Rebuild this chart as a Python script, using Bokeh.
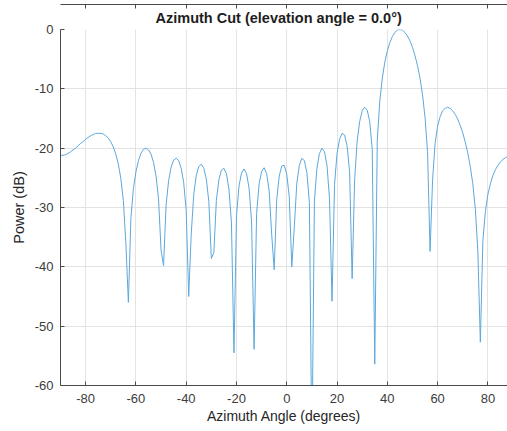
from bokeh.plotting import figure
from bokeh.models import Range1d, FixedTicker, LinearAxis, Title, CustomJSTickFormatter
from bokeh.embed import file_html
from bokeh.resources import INLINE

# Azimuth angles (degrees), 1-degree samples
azimuth = [-90, -89, -88, -87, -86, -85, -84, -83, -82, -81, -80, -79, -78, -77, -76, -75,
           -74, -73, -72, -71, -70, -69, -68, -67, -66, -65, -64, -63, -62, -61, -60, -59,
           -58, -57, -56, -55, -54, -53, -52, -51, -50, -49, -48, -47, -46, -45, -44, -43,
           -42, -41, -40, -39, -38, -37, -36, -35, -34, -33, -32, -31, -30, -29, -28, -27,
           -26, -25, -24, -23, -22, -21, -20, -19, -18, -17, -16, -15, -14, -13, -12, -11,
           -10, -9, -8, -7, -6, -5, -4, -3, -2, -1, 0, 1, 2, 3, 4, 5, 6, 7, 8, 9, 10, 11,
           12, 13, 14, 15, 16, 17, 18, 19, 20, 21, 22, 23, 24, 25, 26, 27, 28, 29, 30, 31,
           32, 33, 34, 35, 36, 37, 38, 39, 40, 41, 42, 43, 44, 45, 46, 47, 48, 49, 50, 51,
           52, 53, 54, 55, 56, 57, 58, 59, 60, 61, 62, 63, 64, 65, 66, 67, 68, 69, 70, 71,
           72, 73, 74, 75, 76, 77, 78, 79, 80, 81, 82, 83, 84, 85, 86, 87, 88, 89, 90]

# Power (dB)
power_db = [-21.2, -21.2, -21.1, -20.9, -20.6, -20.3, -20.0, -19.6, -19.2, -18.9, -18.5, -18.2,
            -17.9, -17.7, -17.5, -17.5, -17.5, -17.6, -17.9, -18.3, -18.9, -19.8, -21.0, -22.7,
            -25.1, -28.8, -36.0, -46.0, -31.8, -26.8, -24.0, -22.1, -20.9, -20.2, -20.0, -20.3,
            -21.0, -22.4, -24.7, -28.6, -37.2, -39.8, -29.6, -25.5, -23.2, -22.0, -21.7, -22.1,
            -23.4, -25.8, -30.5, -45.0, -34.5, -27.8, -24.6, -23.1, -22.7, -23.4, -25.2, -29.0,
            -38.6, -37.6, -28.8, -25.3, -23.7, -23.4, -24.3, -26.9, -32.6, -54.5, -31.4, -26.4,
            -24.2, -23.5, -24.3, -26.7, -32.3, -53.9, -31.0, -26.0, -23.9, -23.3, -24.3, -27.2,
            -34.5, -40.5, -28.7, -24.7, -23.0, -22.9, -24.4, -28.2, -40.0, -33.3, -25.9, -22.9,
            -21.7, -22.1, -24.1, -29.2, -71.9, -28.9, -23.4, -20.9, -20.0, -20.6, -22.9, -28.5,
            -45.8, -26.1, -20.9, -18.5, -17.5, -17.8, -19.6, -24.0, -42.0, -25.3, -18.8, -15.5,
            -13.7, -13.1, -13.6, -15.5, -20.2, -56.4, -18.7, -12.1, -8.2, -5.5, -3.6, -2.2,
            -1.2, -0.5, -0.1, 0.0, -0.1, -0.5, -1.1, -1.9, -3.0, -4.4, -6.1, -8.2,
            -11.0, -14.8, -20.6, -37.4, -25.3, -19.2, -16.3, -14.7, -13.7, -13.3, -13.1, -13.3,
            -13.7, -14.3, -15.1, -16.2, -17.4, -19.0, -20.8, -23.1, -26.0, -30.2, -37.3, -52.7,
            -35.6, -30.7, -27.8, -26.0, -24.6, -23.6, -22.9, -22.3, -21.9, -21.6, -21.4, -21.3,
            -21.2]

x_ticks = [-80, -60, -40, -20, 0, 20, 40, 60, 80]
x_tick_labels = ["-80", "-60", "-40", "-20", "0", "20", "40", "60", "80"]
y_ticks = [-60, -50, -40, -30, -20, -10, 0]
y_tick_labels = ["-60", "-50", "-40", "-30", "-20", "-10", "0"]

title_text = "Azimuth Cut (elevation angle = 0.0\u00b0)"
x_label = "Azimuth Angle (degrees)"
y_label = "Power (dB)"

FONT = "Liberation Sans"
AX = "#4a4a4a"
LBL = "#3c3c3c"

p = figure(width=507, height=431, output_backend="svg", toolbar_location=None,
           x_range=Range1d(-90, 87.8), y_range=Range1d(-60, 0),
           min_border_left=60, min_border_right=0, min_border_top=29, min_border_bottom=46,
           title=None)
p.outline_line_color = None
p.background_fill_color = "white"
p.border_fill_color = "white"

t = Title(text=title_text, align="left", offset=95, text_font=FONT, text_font_size="14.5px",
          text_font_style="bold", text_color="#1e1e1e", standoff=7)
p.add_layout(t, "above")

p.line(azimuth, power_db, line_color="#5ca8dc", line_width=1.0)

for ax in (p.xaxis[0], p.yaxis[0]):
    ax.axis_line_color = AX
    ax.major_tick_line_color = AX
    ax.major_tick_in = 4
    ax.major_tick_out = 0
    ax.minor_tick_line_color = None
    ax.major_label_text_font = FONT
    ax.major_label_text_font_size = "13px"
    ax.major_label_text_color = LBL
    ax.axis_label_text_font = FONT
    ax.axis_label_text_font_size = "14px"
    ax.axis_label_text_font_style = "normal"
    ax.axis_label_text_color = "#262626"

p.xaxis[0].ticker = FixedTicker(ticks=x_ticks)
p.yaxis[0].ticker = FixedTicker(ticks=y_ticks)
p.xaxis[0].major_label_overrides = dict(zip(x_ticks, x_tick_labels))
p.yaxis[0].major_label_overrides = dict(zip(y_ticks, y_tick_labels))
p.xaxis[0].axis_label = x_label
p.yaxis[0].axis_label = y_label
p.yaxis[0].axis_label_text_font_size = "14.5px"
p.xaxis[0].major_label_standoff = 8
p.xaxis[0].axis_label_standoff = 2
p.yaxis[0].major_label_standoff = 7
p.yaxis[0].axis_label_standoff = 5

top = LinearAxis(ticker=FixedTicker(ticks=x_ticks),
                 formatter=CustomJSTickFormatter(code="return ''"),
                 major_label_standoff=0, major_tick_in=4, major_tick_out=0,
                 minor_tick_line_color=None, axis_line_color=AX, major_tick_line_color=AX)
p.add_layout(top, "above")

p.xgrid.ticker = FixedTicker(ticks=x_ticks)
p.ygrid.ticker = FixedTicker(ticks=y_ticks)
p.grid.grid_line_color = "#e3e3e3"
p.grid.grid_line_width = 1

open("out.html", "w").write(file_html(p, INLINE))
